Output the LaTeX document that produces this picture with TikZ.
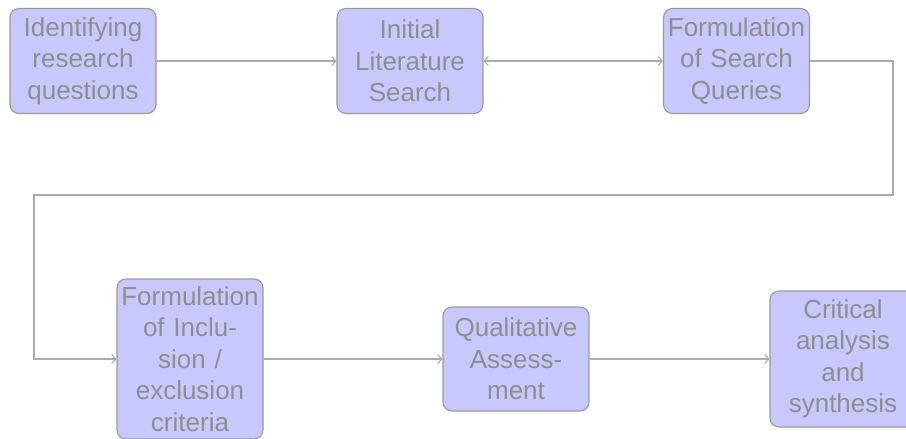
\documentclass[tikz,border=0pt]{standalone}
\usepackage{tikz}
\usepackage{xcolor}
\usepackage{fontspec}
\setmainfont{Liberation Sans}
\usetikzlibrary{calc,arrows.meta}
\definecolor{boxfill}{HTML}{C8C8FF}
\definecolor{boxline}{HTML}{9A9A9A}
\definecolor{txtgray}{HTML}{8E8E8E}
\definecolor{arrline}{HTML}{ABABAB}

\begin{document}
\begin{tikzpicture}[x=1pt,y=-1pt,
    stage/.style={draw=boxline, fill=boxfill, rounded corners=9pt, line width=1.1pt,
      text=txtgray, align=center, text width=142pt, inner sep=2pt,
      font=\fontsize{26}{31.5}\selectfont},
    flow/.style={draw=arrline, line width=1.1pt, -{Straight Barb[length=4pt,width=9pt]}}]
      %
      \useasboundingbox (0,0) rectangle (906,439);

      % top row
      \node[stage, minimum height=105pt] (ident) at (83,61) {Identifying\\research\\questions};
      \node[stage, minimum height=105pt] (init) at (410,61) {Initial\\Literature\\Search};
      \node[stage, minimum height=105pt] (formq) at (736.5,61) {Formulation\\of Search\\Queries};

      % bottom row
      \node[stage, minimum height=160pt] (formic) at (190,359) {Formulation\\of Inclu-\\sion /\\exclusion\\criteria};
      \node[stage, minimum height=104pt] (qual) at (516,359) {Qualitative\\Assess-\\ment};
      \node[stage, minimum height=136pt] (crit) at (843,359) {Critical\\analysis\\and\\synthesis};

      % turn-around corners
      \coordinate (rturn) at (893,195);
      \coordinate (lturn) at (34,195);

      \draw[flow] (ident) -- (init);
      \draw[flow, {Straight Barb[length=4pt,width=9pt]}-{Straight Barb[length=4pt,width=9pt]}] (init) -- (formq);
      \draw[flow, rounded corners=0pt] (formq.east) -| (rturn) -| (lturn) |- (formic.west);
      \draw[flow] (formic) -- (qual);
      \draw[flow] (qual) -- (crit);
    \end{tikzpicture}
\end{document}
